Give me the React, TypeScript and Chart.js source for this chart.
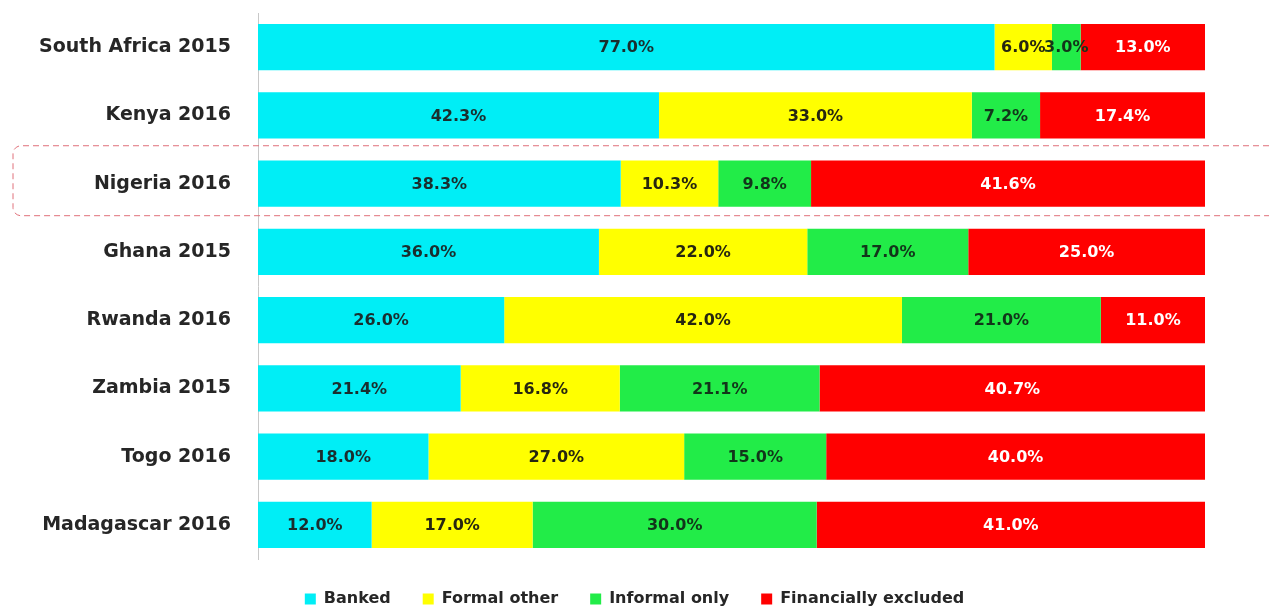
import React, { useEffect, useRef } from "react";
import { Chart, registerables } from "chart.js";

Chart.register(...registerables);

const categories = [
  "South Africa 2015",
  "Kenya 2016",
  "Nigeria 2016",
  "Ghana 2015",
  "Rwanda 2016",
  "Zambia 2015",
  "Togo 2016",
  "Madagascar 2016",
];
const banked = [77.0, 42.3, 38.3, 36.0, 26.0, 21.4, 18.0, 12.0];
const formalOther = [6.0, 33.0, 10.3, 22.0, 42.0, 16.8, 27.0, 17.0];
const informalOnly = [3.0, 7.2, 9.8, 17.0, 21.0, 21.1, 15.0, 30.0];
const excluded = [13.0, 17.4, 41.6, 25.0, 11.0, 40.7, 40.0, 41.0];
const seriesNames = ["Banked", "Formal other", "Informal only", "Financially excluded"];
const seriesColors = ["#00EEF6", "#FFFF00", "#22EC48", "#FF0000"];
const labelColors = ["#1a2e2e", "#262610", "#12351a", "#FFFFFF"];
const highlighted = "Nigeria 2016";

const FONT = "'DejaVu Sans', sans-serif";

export default function App() {
  const ref = useRef<HTMLCanvasElement>(null);
  useEffect(() => {
    if (!ref.current) return;
    const raw = [banked, formalOther, informalOnly, excluded];
    const totals = categories.map((_, i) => raw.reduce((s, arr) => s + arr[i], 0));
    const datasets = raw.map((arr, k) => ({
      label: seriesNames[k],
      data: arr.map((v, i) => (v / totals[i]) * 100),
      rawValues: arr,
      backgroundColor: seriesColors[k],
      borderWidth: 0,
      barPercentage: 0.675,
      categoryPercentage: 1,
    }));

    const legendFit = {
      id: "legendFit",
      beforeInit(chart: any) {
        const lg = chart.legend;
        if (!lg) return;
        const orig = lg.fit;
        lg.fit = function () {
          orig.call(this);
          this.height = 50;
        };
      },
    };

    const highlight = {
      id: "highlight",
      beforeDatasetsDraw(chart: any) {
        const y = chart.scales.y;
        const idx = categories.indexOf(highlighted);
        if (idx < 0) return;
        const c = y.getPixelForValue(idx);
        const step = y.getPixelForValue(1) - y.getPixelForValue(0);
        const top = c - step * 0.555;
        const bottom = c + step * 0.47;
        const left = 13;
        const right = chart.width + 20;
        const r = 8;
        const ctx = chart.ctx;
        ctx.save();
        ctx.strokeStyle = "#E0707A";
        ctx.lineWidth = 1;
        ctx.setLineDash([6, 4]);
        ctx.beginPath();
        ctx.moveTo(right, top);
        ctx.lineTo(left + r, top);
        ctx.arcTo(left, top, left, top + r, r);
        ctx.lineTo(left, bottom - r);
        ctx.arcTo(left, bottom, left + r, bottom, r);
        ctx.lineTo(right, bottom);
        ctx.stroke();
        ctx.restore();
      },
    };

    const dataLabels = {
      id: "dataLabels",
      afterDatasetsDraw(chart: any) {
        const ctx = chart.ctx;
        ctx.save();
        ctx.font = `bold 16px ${FONT}`;
        ctx.textAlign = "center";
        ctx.textBaseline = "middle";
        chart.data.datasets.forEach((ds: any, k: number) => {
          const meta = chart.getDatasetMeta(k);
          meta.data.forEach((el: any, i: number) => {
            const p = el.getProps(["x", "base", "y"], true);
            const cx = (p.x + p.base) / 2;
            ctx.fillStyle = labelColors[k];
            ctx.fillText(ds.rawValues[i].toFixed(1) + "%", cx, p.y + 1);
          });
        });
        ctx.restore();
      },
    };

    const chart = new Chart(ref.current, {
      type: "bar",
      data: { labels: categories, datasets: datasets as any },
      options: {
        indexAxis: "y",
        animation: false,
        responsive: false,
        maintainAspectRatio: false,
        layout: { padding: { top: 13, right: 0, left: 0, bottom: 0 } },
        scales: {
          x: { stacked: true, min: 0, max: 100, display: false },
          y: {
            stacked: true,
            grid: { display: false, drawTicks: false },
            border: { display: true, color: "#C8C8C8", width: 1 },
            ticks: {
              padding: 27,
              color: "#262626",
              font: { family: FONT, size: 19, weight: "bold" },
            },
            afterFit(scale: any) {
              scale.width = 258;
              scale.paddingTop = 0;
              scale.paddingBottom = 0;
            },
          },
          yRight: {
            type: "category",
            position: "right",
            display: true,
            grid: { display: false, drawTicks: false },
            border: { display: false },
            ticks: { display: false },
            afterFit(scale: any) {
              scale.width = 64;
              scale.paddingTop = 0;
              scale.paddingBottom = 0;
            },
          },
        } as any,
        plugins: {
          legend: {
            position: "bottom",
            labels: {
              boxWidth: 11,
              boxHeight: 11,
              padding: 32,
              color: "#262626",
              font: { family: FONT, size: 16, weight: "bold" },
            },
          },
          tooltip: { enabled: false },
        },
      },
      plugins: [legendFit, highlight, dataLabels],
    });
    return () => chart.destroy();
  }, []);

  return (
    <div style={{ position: "fixed", left: 0, top: 0, width: 1269, height: 609, background: "#fff" }}>
      <canvas ref={ref} width={1269} height={609} style={{ width: 1269, height: 609 }} />
    </div>
  );
}
